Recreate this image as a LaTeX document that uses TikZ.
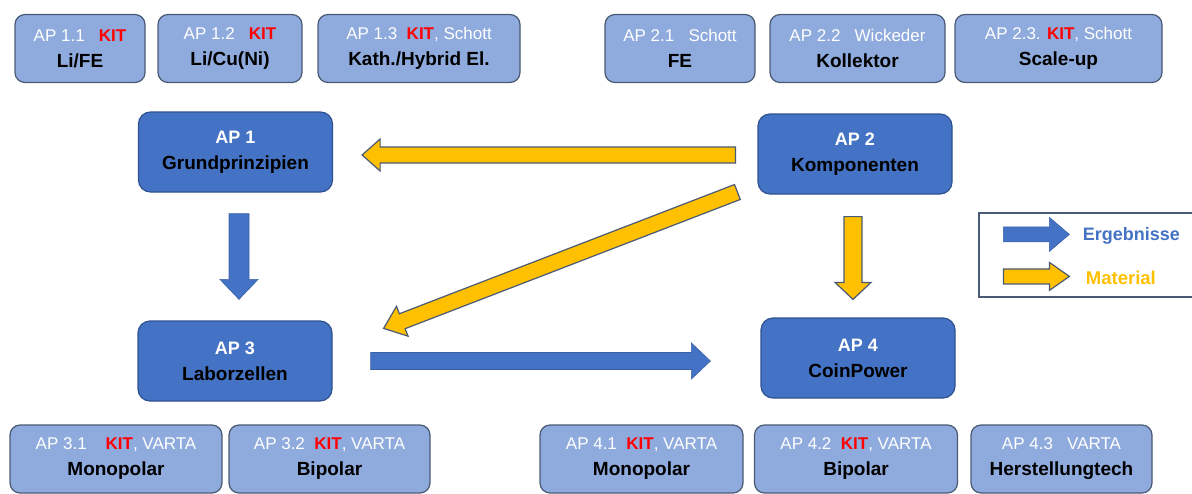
\documentclass[tikz,border=0pt]{standalone}
\usepackage{fontspec}
\setmainfont{Liberation Sans}
\usetikzlibrary{calc}

\definecolor{subfill}{HTML}{8FAADC}
\definecolor{subline}{HTML}{4A5A74}
\definecolor{apblue}{HTML}{4472C4}
\definecolor{apline}{HTML}{2F528F}
\definecolor{matyellow}{HTML}{FFC000}
\definecolor{kitred}{HTML}{FF0000}

\newcommand{\kit}{\textcolor{kitred}{\bfseries KIT}}
\newcommand{\aptitel}[1]{{\color{black}\bfseries\fontsize{19}{26}\selectfont #1}}
% Blockpfeil: [Stil]{von}{nach}{halbe Schaftbreite}{halbe Spitzenbreite}{Spitzenlaenge}
\newcommand{\blockarrow}[6][]{%
  \coordinate (ba) at ($(#3)!#6!(#2)$);
  \draw[#1] ($(#2)!#4!90:(#3)$) -- ($(ba)!#4!-90:(#2)$) -- ($(ba)!#5!-90:(#2)$)
    -- (#3) -- ($(ba)!#5!90:(#2)$) -- ($(ba)!#4!90:(#2)$) -- ($(#2)!#4!-90:(#3)$) -- cycle;
}

\tikzset{
  subbox/.style={draw=subline, fill=subfill, line width=1.2pt, rounded corners=10pt,
    align=center, inner sep=0pt, text=white, font=\fontsize{17}{26}\selectfont,
    minimum height=68pt},
  apbox/.style={draw=apline, fill=apblue, line width=1.2pt, rounded corners=12pt,
    align=center, inner sep=0pt, text=white, font=\fontsize{18}{26}\selectfont\bfseries,
    minimum width=194pt, minimum height=80pt},
  erg/.style={fill=apblue, draw=apblue!85!black, line width=0.6pt},
  mat/.style={fill=matyellow, draw=subline, line width=1.2pt},
}

\begin{document}
\begin{tikzpicture}[x=1pt, y=-1pt]
    \useasboundingbox (0,0) rectangle (1192,493);

    % Arbeitspakete
    \node[apbox] (ap1) at (235.5,152) {AP 1\\\aptitel{Grundprinzipien}};
    \node[apbox] (ap2) at (855,154) {AP 2\\\aptitel{Komponenten}};
    \node[apbox] (ap3) at (235,361) {AP 3\\\aptitel{Laborzellen}};
    \node[apbox] (ap4) at (858,358) {AP 4\\\aptitel{CoinPower}};

    % obere Reihe
    \node[subbox, minimum width=130pt] (ap11) at (80,48.5) {AP 1.1~~~\kit\\\aptitel{Li/FE}};
    \node[subbox, minimum width=144pt] (ap12) at (230,48.5) {AP 1.2~~~\kit\\\aptitel{Li/Cu(Ni)}};
    \node[subbox, minimum width=202pt] (ap13) at (419,48.5) {AP 1.3~~\kit, Schott\\\aptitel{Kath./Hybrid El.}};
    \node[subbox, minimum width=150pt] (ap21) at (680,48.5) {AP 2.1~~~Schott\\\aptitel{FE}};
    \node[subbox, minimum width=175pt] (ap22) at (857.5,48.5) {AP 2.2~~~Wickeder\\\aptitel{Kollektor}};
    \node[subbox, minimum width=207pt] (ap23) at (1058.5,48.5) {AP 2.3. \kit, Schott\\\aptitel{Scale-up}};

    % untere Reihe
    \node[subbox, minimum width=212pt] (ap31) at (116,459) {AP 3.1~~~~\kit, VARTA\\\aptitel{Monopolar}};
    \node[subbox, minimum width=201pt] (ap32) at (329.5,459) {AP 3.2~~\kit, VARTA\\\aptitel{Bipolar}};
    \node[subbox, minimum width=203pt] (ap41) at (641.5,459) {AP 4.1~~\kit, VARTA\\\aptitel{Monopolar}};
    \node[subbox, minimum width=203pt] (ap42) at (856,459) {AP 4.2~~\kit, VARTA\\\aptitel{Bipolar}};
    \node[subbox, minimum width=181pt] (ap43) at (1061.5,459) {AP 4.3~~~VARTA\\\aptitel{Herstellungtech}};

    % Pfeilenden
    \coordinate (p21s) at ($(ap2.west)+(-22,1)$);
    \coordinate (p21e) at ($(ap1.east)+(29,3)$);
    \coordinate (p23s) at ($(ap2.west)+(-20,38)$);
    \coordinate (p23e) at ($(ap3.north east)+(51,8)$);
    \coordinate (p13s) at ($(ap1.south)+(3.5,21)$);
    \coordinate (p13e) at ($(ap3.north)+(4,-21)$);
    \coordinate (p24s) at ($(ap2.south)+(-2,22)$);
    \coordinate (p24e) at ($(ap4.north)+(-5,-18)$);
    \coordinate (p34s) at ($(ap3.east)+(38,0)$);
    \coordinate (p34e) at ($(ap4.west)+(-50,3)$);

    \blockarrow[mat]{p21s}{p21e}{8pt}{16pt}{18pt}
    \blockarrow[mat]{p23s}{p23e}{8pt}{16pt}{20pt}
    \blockarrow[erg]{p13s}{p13e}{10pt}{19pt}{20pt}
    \blockarrow[mat]{p24s}{p24e}{9pt}{18pt}{17pt}
    \blockarrow[erg]{p34s}{p34e}{8.5pt}{18pt}{19pt}

    % Legende
    \node[draw=subline, line width=1.2pt, minimum width=214pt, minimum height=84pt,
          inner sep=0pt] (leg) at (1086,255) {};
    \coordinate (l1s) at ($(leg.north west)+(25,22)$);
    \coordinate (l1e) at ($(l1s)+(66,0)$);
    \coordinate (l2s) at ($(leg.north west)+(25,64)$);
    \coordinate (l2e) at ($(l2s)+(66,0)$);
    \blockarrow[erg]{l1s}{l1e}{7.5pt}{17pt}{20pt}
    \blockarrow[mat]{l2s}{l2e}{7.5pt}{14pt}{20pt}
    \node[right, text=apblue, font=\fontsize{18}{22}\selectfont\bfseries] (ergtxt)
        at ($(l1e)+(10,1)$) {Ergebnisse};
    \node[right, text=matyellow, font=\fontsize{18.5}{22}\selectfont\bfseries] (mattxt)
        at ($(l2e)+(13,1)$) {Material};
\end{tikzpicture}
\end{document}
